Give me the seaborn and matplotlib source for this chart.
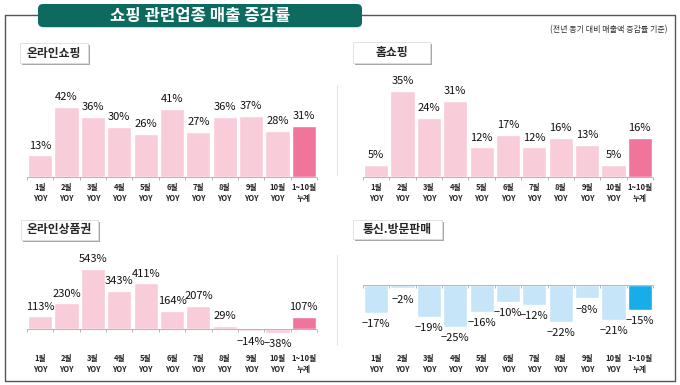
import numpy as np
import pandas as pd
import matplotlib
matplotlib.use('Agg')
import matplotlib.pyplot as plt
from matplotlib.patches import Rectangle, FancyBboxPatch
import seaborn as sns

sns.set_style('white')
plt.rcParams['font.family'] = ['Noto Sans CJK KR', 'DejaVu Sans']

# Data
months = ['1월\nYOY', '2월\nYOY', '3월\nYOY', '4월\nYOY', '5월\nYOY', '6월\nYOY',
          '7월\nYOY', '8월\nYOY', '9월\nYOY', '10월\nYOY', '1~10월\n누계']
online_shop = [13, 42, 36, 30, 26, 41, 27, 36, 37, 28, 31]
home_shop = [5, 35, 24, 31, 12, 17, 12, 16, 13, 5, 16]
gift_card = [113, 230, 543, 343, 411, 164, 207, 29, -14, -38, 107]
direct_sales = [-17, -2, -19, -25, -16, -10, -12, -22, -8, -21, -15]

title = '쇼핑 관련업종 매출 증감률'
subtitle = '(전년 동기 대비 매출액 증감률 기준)'
panel_names = ['온라인쇼핑', '홈쇼핑', '온라인상품권', '통신.방문판매']

PINK, PINK_DARK = '#f9ccd9', '#f0759a'
BLUE, BLUE_DARK = '#c6e5f9', '#16ade9'

W, H = 680, 385
fig = plt.figure(figsize=(W / 100, H / 100), dpi=100)

# background layer in pixel coordinates
bg = fig.add_axes([0, 0, 1, 1])
bg.set_xlim(0, W)
bg.set_ylim(H, 0)
bg.axis('off')

# outer frame (top line broken by the banner)
frame = '#555555'
bg.plot([5, 5, 675, 675, 5], [15, 381, 381, 15, 15], color=frame, lw=1)

# banner
bg.add_patch(FancyBboxPatch((40, 7), 322, 21, boxstyle='round,pad=0,rounding_size=5',
                            facecolor='#d8d8d8', edgecolor='none', zorder=2))
bg.add_patch(FancyBboxPatch((38, 4), 324, 23, boxstyle='round,pad=0,rounding_size=5',
                            facecolor='#0d6a5e', edgecolor='none', zorder=3))
bg.text(200, 15.5, title, color='white', fontsize=12, fontweight='bold',
        ha='center', va='center', zorder=4)
bg.text(667, 30, subtitle, fontsize=5.8, ha='right', va='center', color='#333333')

# panel name boxes
boxes = [(20, 43, 68, 20), (353, 42, 77, 21), (21, 220, 77, 20), (353, 220, 89, 19)]
for (x, y, w, h), name in zip(boxes, panel_names):
    bg.add_patch(Rectangle((x + 2, y + 2), w, h, facecolor='#a8a8a8', edgecolor='none', zorder=2))
    bg.add_patch(Rectangle((x, y), w, h, facecolor='white', edgecolor='#dddddd', lw=0.6, zorder=3))
    bg.text(x + w / 2, y + h / 2, name, fontsize=8.5, fontweight='bold',
            ha='center', va='center', zorder=4)

# faint separators
bg.plot([337, 337], [85, 175], color='#e2e2e2', lw=0.8)
bg.plot([337, 337], [255, 345], color='#e2e2e2', lw=0.8)


def bar_panel(values, x0, x1, top, bot, base, scale, light, dark):
    ax = fig.add_axes([x0 / W, 1 - bot / H, (x1 - x0) / W, (bot - top) / H])
    ax.patch.set_alpha(0)
    df = pd.DataFrame({'month': months, 'value': values})
    colors = [light] * (len(values) - 1) + [dark]
    sns.barplot(data=df, x='month', y='value', hue='month', palette=colors,
                legend=False, width=0.92, saturation=1, ax=ax)
    ax.set_xlim(-0.5, len(values) - 0.5)
    ax.set_ylim(-(bot - base) / scale, (base - top) / scale)
    ax.axhline(0, color='#b5b5b5', lw=0.7, zorder=3)
    ax.plot(np.arange(len(values) + 1) - 0.5, [0] * (len(values) + 1), ls='none',
            marker=3, ms=2.5, mew=0.7, color='#b5b5b5', clip_on=False, zorder=3)
    for i, v in enumerate(values):
        ax.annotate(f'{v}%' if v >= 0 else f'−{abs(v)}%', (i, v),
                    xytext=(0, 3.5 if v >= 0 else -4.5), textcoords='offset points',
                    ha='center', va='bottom' if v >= 0 else 'top',
                    fontsize=8, fontweight='medium', color='#111111', clip_on=False)
    ax.set_xlabel('')
    ax.set_ylabel('')
    ax.set_yticks([])
    ax.tick_params(axis='x', length=0, pad=1)
    for lab in ax.get_xticklabels():
        lab.set_fontsize(5.5)
        lab.set_fontweight('bold')
        lab.set_linespacing(1.2)
    sns.despine(ax=ax, left=True, bottom=True)
    return ax


bar_panel(online_shop, 27, 317, 62, 182, 177, 1.66, PINK, PINK_DARK)
bar_panel(home_shop, 363, 653, 62, 182, 177, 2.46, PINK, PINK_DARK)
bar_panel(gift_card, 27, 317, 245, 353, 329, 0.111, PINK, PINK_DARK)
bar_panel(direct_sales, 363, 653, 245, 353, 285, 1.66, BLUE, BLUE_DARK)

fig.savefig('out.png', dpi=100)
